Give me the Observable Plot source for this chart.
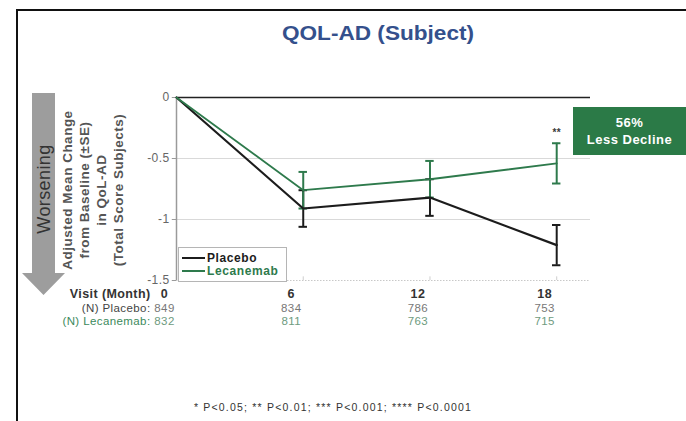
<!DOCTYPE html>
<html>
<head>
<meta charset="utf-8">
<script src="https://cdn.jsdelivr.net/npm/d3@7"></script>
<script src="https://cdn.jsdelivr.net/npm/@observablehq/plot@0.6"></script>
<style>
  html, body { margin: 0; padding: 0; background: #fff; }
  body { font-family: Arial, "Liberation Sans", sans-serif; }
  #wrap { position: relative; width: 686px; height: 421px; overflow: hidden; }
  #wrap > * { position: absolute; }
  #wrap svg text { letter-spacing: 0.4px; }
  .frameTop { left: 16px; top: 9px; width: 670px; height: 2px; background: #111; }
  .frameLeft { left: 16px; top: 9px; width: 2px; height: 412px; background: #111; }
  .title { left: 278px; width: 200px; top: 22px; text-align: center; font-size: 20px; font-weight: bold; color: #34508c; transform: scaleX(1.13); white-space: nowrap; }
  .ylab { left: 93px; top: 190px; width: 0; height: 0; }
  .ylab div { position: absolute; transform: translate(-50%, -50%) rotate(-90deg); white-space: nowrap; text-align: center; font-size: 13.5px; letter-spacing: 0.5px; font-weight: bold; color: #555; line-height: 17px; }
  .badge { left: 573px; top: 107px; width: 113px; height: 48px; background: #2b7a47; color: #fff; font-weight: bold; font-size: 13px; letter-spacing: 0.5px; text-align: center; line-height: 17px; display: flex; flex-direction: column; justify-content: center; }
  .legend { left: 178px; top: 247px; width: 107px; height: 33px; border: 1px solid #b5b5b5; background: #fff; font-size: 12px; letter-spacing: 0.6px; font-weight: bold; }
  .legend .row { position: absolute; left: 3px; display: flex; align-items: center; line-height: 14px; }
  .legend .sw { width: 23px; height: 2px; margin-right: 2px; }
  .foot { left: 0; width: 666px; top: 401px; text-align: center; font-size: 10.5px; letter-spacing: 1.2px; color: #333; }
</style>
</head>
<body>
<div id="wrap"></div>
<script>
// Visits (months) and adjusted mean change from baseline (±SE) in QoL-AD
const months = [0, 6, 12, 18];
const placeboMean = [0, -0.91, -0.82, -1.21];
const placeboSE = [0, 0.15, 0.15, 0.165];
const lecanemabMean = [0, -0.76, -0.67, -0.54];
const lecanemabSE = [0, 0.15, 0.15, 0.165];
const significance = ["", "", "", "**"];
const nPlacebo = [849, 834, 786, 753];
const nLecanemab = [832, 811, 763, 715];
const yTicks = [0, -0.5, -1, -1.5];
const yTickLabels = ["0", "-0.5", "-1", "-1.5"];

const colors = { Placebo: "#1c1c1c", Lecanemab: "#2e7a4c" };

const rows = [
  ...months.map((m, i) => ({ group: "Placebo", month: m, mean: placeboMean[i], se: placeboSE[i], n: nPlacebo[i], sig: "" })),
  ...months.map((m, i) => ({ group: "Lecanemab", month: m, mean: lecanemabMean[i], se: lecanemabSE[i], n: nLecanemab[i], sig: significance[i] }))
];
const bars = rows.filter(d => d.se > 0);
const capHalf = 0.2;

const font = 'Arial, "Liberation Sans", sans-serif';

const chart = Plot.plot({
  width: 686,
  height: 421,
  marginLeft: 176,
  marginRight: 96,
  marginTop: 97,
  marginBottom: 141,
  style: { fontFamily: font, background: "transparent", overflow: "visible" },
  x: { domain: [0, 19.6], axis: null },
  y: { domain: [-1.5, 0], axis: null },
  marks: [
    // horizontal guides
    Plot.ruleY([-0.5, -1], { stroke: "#d9d9d9", strokeWidth: 1 }),
    Plot.ruleY([-1.5], { stroke: "#c8c8c8", strokeWidth: 1, strokeDasharray: "1.5,1.5" }),
    Plot.ruleY([0], { stroke: "#222", strokeWidth: 1.5 }),
    Plot.ruleX([0], { y1: -1.5, y2: 0, stroke: "#9a9a9a", strokeWidth: 1.5 }),
    // y ticks and labels
    Plot.ruleY(yTicks, { x1: -0.2, x2: 0, stroke: "#9a9a9a", strokeWidth: 1 }),
    Plot.text(yTicks, { x: 0, y: d => d, text: (d, i) => yTickLabels[i], dx: -7, textAnchor: "end", fill: "#666", fontSize: 12 }),
    // x ticks on the bottom line
    Plot.ruleX(months.slice(1), { y1: -1.5, y2: -1.47, stroke: "#cfcfcf" }),
    // error bars
    Plot.ruleX(bars, { x: "month", y1: d => d.mean - d.se, y2: d => d.mean + d.se, stroke: d => colors[d.group], strokeWidth: 2 }),
    Plot.ruleY(bars, { y: d => d.mean - d.se, x1: d => d.month - capHalf, x2: d => d.month + capHalf, stroke: d => colors[d.group], strokeWidth: 2 }),
    Plot.ruleY(bars, { y: d => d.mean + d.se, x1: d => d.month - capHalf, x2: d => d.month + capHalf, stroke: d => colors[d.group], strokeWidth: 2 }),
    // mean trajectories
    Plot.line(rows.filter(d => d.group === "Placebo"), { x: "month", y: "mean", stroke: colors.Placebo, strokeWidth: 2.2 }),
    Plot.line(rows.filter(d => d.group === "Lecanemab"), { x: "month", y: "mean", stroke: colors.Lecanemab, strokeWidth: 1.8 }),
    // significance markers
    Plot.text(bars.filter(d => d.sig), { x: "month", y: d => d.mean + d.se, text: "sig", dy: -10, fill: "#3a3a3a", fontSize: 10, fontWeight: "bold" }),
    // visit / N table beneath the axis
    Plot.text(months, { x: d => d, frameAnchor: "bottom", dy: 17, dx: -12, text: d => String(d), fill: "#333", fontSize: 12.5, fontWeight: "bold" }),
    Plot.text(months, { x: d => d, frameAnchor: "bottom", dy: 31, dx: -12, text: (d, i) => String(nPlacebo[i]), fill: "#777", fontSize: 11.5 }),
    Plot.text(months, { x: d => d, frameAnchor: "bottom", dy: 44, dx: -12, text: (d, i) => String(nLecanemab[i]), fill: "#6e9b80", fontSize: 11.5 }),
    Plot.text(["Visit (Month)"], { frameAnchor: "bottom-left", dx: -26, dy: 17, textAnchor: "end", text: d => d, fill: "#333", fontSize: 12.5, fontWeight: "bold" }),
    Plot.text(["(N) Placebo:"], { frameAnchor: "bottom-left", dx: -26, dy: 31, textAnchor: "end", text: d => d, fill: "#444", fontSize: 11.5 }),
    Plot.text(["(N) Lecanemab:"], { frameAnchor: "bottom-left", dx: -26, dy: 44, textAnchor: "end", text: d => d, fill: "#3c8a5c", fontSize: 11.5 })
  ]
});

const wrap = document.getElementById("wrap");

// worsening arrow
const arrow = document.createElementNS("http://www.w3.org/2000/svg", "svg");
arrow.setAttribute("width", "60");
arrow.setAttribute("height", "220");
arrow.style.left = "16px";
arrow.style.top = "88px";
arrow.innerHTML = `
  <path d="M16 5 L39 5 L39 185 L49 185 L27.5 207 L6 185 L16 185 Z" fill="#9d9d9d"/>
  <text transform="translate(27.5,101) rotate(-90)" text-anchor="middle" dominant-baseline="central"
        font-family='Arial, "Liberation Sans", sans-serif' font-size="18" fill="#333">Worsening</text>`;
wrap.appendChild(arrow);

wrap.appendChild(chart);

wrap.insertAdjacentHTML("beforeend", `
  <div class="frameTop"></div>
  <div class="frameLeft"></div>
  <div class="title">QOL-AD (Subject)</div>
  <div class="ylab"><div>Adjusted Mean Change<br>from Baseline (±SE)<br>in QoL-AD<br>(Total Score Subjects)</div></div>
  <div class="badge"><div>56%</div><div>Less Decline</div></div>
  <div class="legend">
    <div class="row" style="top:3px;color:${colors.Placebo}"><span class="sw" style="background:${colors.Placebo}"></span>Placebo</div>
    <div class="row" style="top:16px;color:${colors.Lecanemab}"><span class="sw" style="background:${colors.Lecanemab}"></span>Lecanemab</div>
  </div>
  <div class="foot">* P&lt;0.05; ** P&lt;0.01; *** P&lt;0.001; **** P&lt;0.0001</div>
`);
</script>
</body>
</html>
